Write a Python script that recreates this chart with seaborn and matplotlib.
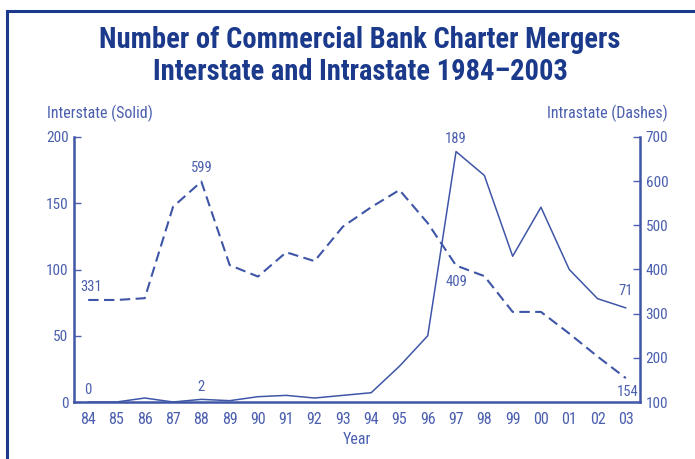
import matplotlib
matplotlib.use("Agg")
import matplotlib.pyplot as plt
from matplotlib import font_manager
import seaborn as sns
import pandas as pd
from matplotlib.patches import Rectangle

years = ["84", "85", "86", "87", "88", "89", "90", "91", "92", "93",
         "94", "95", "96", "97", "98", "99", "00", "01", "02", "03"]
interstate = [0, 0, 3, 0, 2, 1, 4, 5, 3, 5, 7, 27, 50, 189, 171, 110, 147, 100, 78, 71]
intrastate = [331, 331, 335, 542, 599, 410, 384, 439, 419, 497, 541, 580, 505, 409, 385, 304, 304, 255, 203, 154]

sns.set_theme(style="white")

# pick a narrow family if one is installed
entries = font_manager.fontManager.ttflist
names = {e.name for e in entries}
narrow = [e.name for e in entries
          if ('Narrow' in e.name or 'Condensed' in e.name)]
cands = ['Liberation Sans Narrow', 'Roboto Condensed', 'Open Sans Condensed',
         'Noto Sans Condensed', 'DejaVu Sans Condensed'] + sorted(set(narrow))
fam = None
for c in cands:
    if c in names:
        fam = c
        break
stretch = 'normal'
if fam is None:
    for base in ['Roboto', 'Open Sans', 'Noto Sans', 'Lato']:
        cond = [e for e in entries if e.name == base and str(e.stretch) in
                ('condensed', 'semi-condensed', 'extra-condensed', '75', '87.5')]
        if cond:
            fam = base
            stretch = 'condensed'
            break
if fam is None:
    fam = 'Roboto' if 'Roboto' in names else 'DejaVu Sans'
plt.rcParams['font.family'] = [fam, 'DejaVu Sans']
plt.rcParams['font.stretch'] = stretch

TITLE_C = "#1b3a8c"
LINE_C = "#3f56a6"
TEXT_C = "#4a5fae"

df = pd.DataFrame({"pos": range(len(years)), "year": years,
                   "inter": interstate, "intra": intrastate})

fig = plt.figure(figsize=(6.95, 4.59), dpi=100)
ax = fig.add_axes([74/695, 1-402/459, (640-74)/695, (402-137)/459])
ax2 = ax.twinx()

sns.lineplot(data=df, x="pos", y="inter", ax=ax, color=LINE_C, linewidth=1.1)
sns.lineplot(data=df, x="pos", y="intra", ax=ax2, color=LINE_C, linewidth=1.5)
ax2.lines[0].set_dashes((5, 2.6))

ax.set_xlim(-0.5, len(years) - 0.5)
ax.set_ylim(0, 200)
ax2.set_ylim(100, 700)
ax.set_yticks([0, 50, 100, 150, 200])
ax2.set_yticks([100, 200, 300, 400, 500, 600, 700])
ax.set_xticks(range(len(years)))
ax.set_xticklabels(years)

for a in (ax, ax2):
    a.set_ylabel("")
    a.set_xlabel("")
    a.grid(False)
    a.spines['top'].set_visible(False)
    for s in a.spines.values():
        s.set_color(LINE_C)
        s.set_linewidth(1.8)
    a.tick_params(colors=TEXT_C, labelsize=11, direction='in', length=5, width=1.0)
ax.spines['right'].set_visible(False)
ax2.spines['left'].set_visible(False)
ax2.spines['bottom'].set_visible(False)
ax.tick_params(axis='x', pad=7, color=LINE_C, labelsize=11.5)
ax.tick_params(axis='y', pad=4)
ax2.tick_params(axis='y', pad=4)

ax.set_xlabel("Year", color=TEXT_C, fontsize=11.5, labelpad=4)

def ann(axis, i, v, dx, dy, ha='center'):
    axis.annotate(str(v), (i, v), xytext=(dx, dy), textcoords='offset points',
                  ha=ha, va='center', color=TEXT_C, fontsize=10.5)

ann(ax2, 0, intrastate[0], 2, 9)
ann(ax2, 4, intrastate[4], 0, 10)
ann(ax2, 13, intrastate[13], 0, -12)
ann(ax2, 19, intrastate[19], 1, -10)
ann(ax, 0, interstate[0], 0, 9)
ann(ax, 4, interstate[4], 0, 9)
ann(ax, 13, interstate[13], 0, 9)
ann(ax, 19, interstate[19], 0, 12)

fig.text(47/695, 1-113/459, "Interstate (Solid)", color=TEXT_C, fontsize=11.5,
         ha='left', va='center')
fig.text(668/695, 1-113/459, "Intrastate (Dashes)", color=TEXT_C, fontsize=11.5,
         ha='right', va='center')

t1 = fig.text(360/695, 1-40/459, "Number of Commercial Bank Charter Mergers",
              color=TITLE_C, fontsize=23, fontweight='bold', ha='center', va='center')
t2 = fig.text(360/695, 1-72/459, "Interstate and Intrastate 1984\u20132003",
              color=TITLE_C, fontsize=23, fontweight='bold', ha='center', va='center')

# fit the title width to the reference (~523 px for the first line)
r = fig.canvas.get_renderer()
w = t1.get_window_extent(r).width
if w > 530:
    fs = 23 * 523 / w
    t1.set_fontsize(fs)
    t2.set_fontsize(fs)

fig.patches.append(Rectangle((7/695, -0.05), 1.0, 1-11/459 + 0.05,
                             transform=fig.transFigure, fill=False,
                             edgecolor=TITLE_C, linewidth=2.2))

fig.savefig("out.png", dpi=100)
